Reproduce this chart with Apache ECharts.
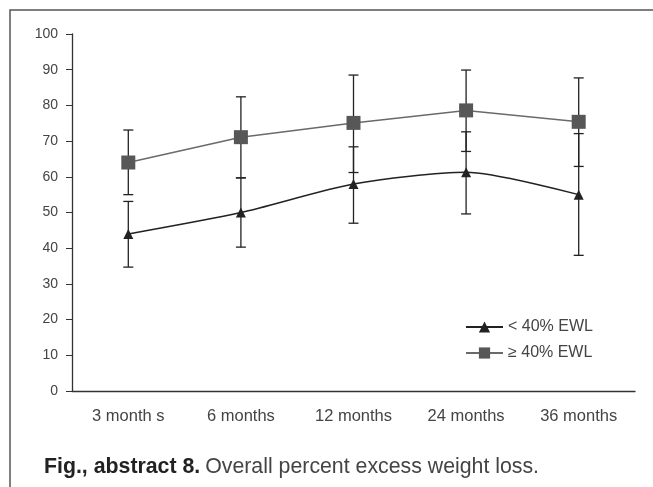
<!DOCTYPE html>
<html><head><meta charset="utf-8">
<script src="https://cdn.jsdelivr.net/npm/echarts@6/dist/echarts.min.js"></script>
<style>html,body{margin:0;padding:0;background:#fff}#c{width:653px;height:487px}</style>
</head><body><div id="c"></div>
<script>
const categories = ['3 month s', '6 months', '12 months', '24 months', '36 months'];
const lowName = '< 40% EWL';
const highName = '\u2265 40% EWL';
const lowMean = [44, 50, 58, 61.3, 55];
const lowErrLow = [34.7, 40.3, 47.0, 49.6, 38.0];
const lowErrHigh = [53.1, 59.7, 68.4, 72.6, 72.1];
const highMean = [64, 71.1, 75.1, 78.6, 75.4];
const highErrLow = [55.0, 59.7, 61.2, 67.1, 62.9];
const highErrHigh = [73.1, 82.4, 88.5, 89.9, 87.7];
const yTicks = { min: 0, max: 100, interval: 10 };

function errData(lo, hi) { return lo.map((v, i) => [i, v, hi[i]]); }
function errRender(params, api) {
  const x = api.value(0);
  const p1 = api.coord([x, api.value(1)]);
  const p2 = api.coord([x, api.value(2)]);
  const w = 5;
  const st = { stroke: '#222', lineWidth: 1.3 };
  return { type: 'group', children: [
    { type: 'line', shape: { x1: p1[0], y1: p1[1], x2: p2[0], y2: p2[1] }, style: st },
    { type: 'line', shape: { x1: p1[0] - w, y1: p1[1], x2: p1[0] + w, y2: p1[1] }, style: st },
    { type: 'line', shape: { x1: p2[0] - w, y1: p2[1], x2: p2[0] + w, y2: p2[1] }, style: st }
  ]};
}
const chart = echarts.init(document.getElementById('c'));
const font = 'Liberation Sans, Arial, Helvetica, sans-serif';
chart.setOption({
  animation: false,
  textStyle: { fontFamily: font },
  grid: { left: 72, right: 18, top: 34, bottom: 96 },
  title: {
    text: '{b|Fig., abstract 8.} {n|Overall percent excess weight loss.}',
    left: 44, top: 457, padding: 0,
    textStyle: { fontWeight: 'normal', rich: {
      b: { fontFamily: font, fontWeight: 'bold', fontSize: 21.3, color: '#222' },
      n: { fontFamily: font, fontWeight: 'normal', fontSize: 21.3, color: '#444' }
    } }
  },
  legend: {
    orient: 'vertical', left: 460, top: 314, itemWidth: 37, itemHeight: 14, itemGap: 10,
    data: [lowName, highName],
    textStyle: { fontFamily: font, fontSize: 16, color: '#444' }
  },
  xAxis: {
    type: 'category', data: categories, boundaryGap: true,
    axisLine: { lineStyle: { color: '#333', width: 1.3 } },
    axisTick: { length: 4, lineStyle: { color: '#333' } },
    axisLabel: { color: '#444', fontSize: 16.5, margin: 17, fontFamily: font }
  },
  yAxis: {
    type: 'value', min: yTicks.min, max: yTicks.max, interval: yTicks.interval,
    splitLine: { show: false },
    axisLine: { show: true, lineStyle: { color: '#333', width: 1.3 } },
    axisTick: { show: true, length: 6, lineStyle: { color: '#333' } },
    axisLabel: { color: '#444', fontSize: 14, margin: 14, fontFamily: font }
  },
  graphic: [{ type: 'rect', shape: { x: 10, y: 10, width: 700, height: 600 }, style: { fill: 'none', stroke: '#555', lineWidth: 1.5 }, silent: true }],
  series: [
    { type: 'custom', renderItem: errRender, data: errData(lowErrLow, lowErrHigh), z: 1 },
    { type: 'custom', renderItem: errRender, data: errData(highErrLow, highErrHigh), z: 1 },
    { name: lowName, type: 'line', data: lowMean, smooth: 0.25, symbol: 'triangle', symbolSize: 10,
      lineStyle: { color: '#222', width: 1.5 }, itemStyle: { color: '#222' }, z: 3 },
    { name: highName, type: 'line', data: highMean, symbol: 'rect', symbolSize: 14,
      lineStyle: { color: '#6a6a6a', width: 1.5 }, itemStyle: { color: '#575757' }, z: 4 }
  ]
});
</script></body></html>
